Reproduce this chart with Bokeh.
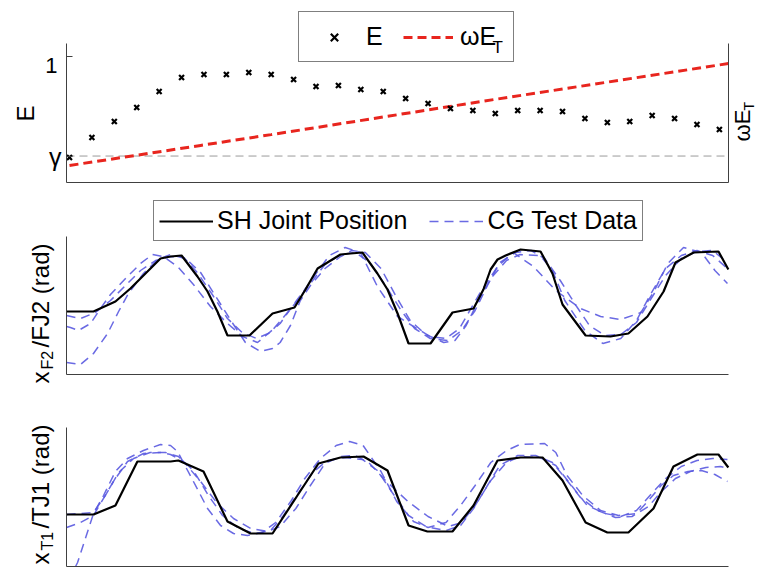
import math
from bokeh.plotting import figure
from bokeh.models import Range1d, LinearAxis, FixedTicker, Legend, LegendItem, Label
from bokeh.layouts import column
from bokeh.embed import file_html
from bokeh.resources import INLINE

FONT = "Liberation Sans"
AX = "#404040"
RED = "#e8251e"
BLUE = "#5a5ae0"

# ---------------- data ----------------
sample = list(range(1, 31))
E = [0.198, 0.357, 0.484, 0.595, 0.722, 0.833, 0.857, 0.857, 0.873, 0.857,
     0.817, 0.762, 0.770, 0.738, 0.722, 0.667, 0.627, 0.587, 0.571, 0.548,
     0.571, 0.571, 0.563, 0.508, 0.476, 0.484, 0.532, 0.508, 0.460, 0.421]
gamma = 0.21
wET_x = [1, 6.85, 10, 20, 30.4]
wET = [0.135, 0.294, 0.38, 0.66, 0.944]

# panel 2: SH joint position (FJ2) and three CG test runs
sh2_x = [0.87, 2.07, 3.05, 3.72, 4.39, 5.06, 5.51, 6.00, 6.71, 7.16, 7.60, 8.05, 9.03, 10.06, 11.04,
         11.53, 12.07, 12.51, 13.09, 13.54, 14.07, 14.74, 15.19, 15.64, 16.13, 17.11, 18.09, 19.03,
         19.47, 19.79, 20.10, 20.46, 21.13, 22.02, 22.55, 23.00, 24.03, 25.14, 25.94, 26.79, 27.51,
         28.04, 28.85, 29.96, 30.40]
sh2_y = [0.00, 0.00, 0.10, 0.23, 0.38, 0.53, 0.55, 0.56, 0.35, 0.20, 0.00, -0.24, -0.24, -0.02, 0.04,
         0.22, 0.43, 0.49, 0.57, 0.58, 0.59, 0.38, 0.22, -0.02, -0.32, -0.32, -0.01, 0.03,
         0.22, 0.42, 0.52, 0.56, 0.62, 0.60, 0.38, 0.07, -0.24, -0.25, -0.22, -0.05, 0.20,
         0.49, 0.59, 0.60, 0.42]
cg2a_x = [0.87, 1.49, 2.07, 2.70, 3.19, 3.63, 4.30, 4.93, 5.5, 6.18, 6.85, 7.5, 8.2, 8.85, 9.52,
          10.06, 10.4, 10.86, 11.3, 11.75, 12.4, 13.1, 13.6, 14.2, 14.9, 15.55, 16.2, 16.9, 17.7, 18.2,
          18.7, 19.25, 19.8, 20.5, 21.1, 22.0, 22.55, 23.1, 24.0, 24.8, 25.6, 26.3, 26.9, 27.6, 28.3,
          29.0, 29.7, 30.36]
cg2a_y = [-0.51, -0.53, -0.42, -0.22, 0.00, 0.18, 0.38, 0.52, 0.57, 0.53, 0.39, 0.16, -0.09, -0.31, -0.40,
          -0.37, -0.31, -0.14, 0.11, 0.26, 0.43, 0.55, 0.61, 0.59, 0.43, 0.16, -0.09, -0.23, -0.31, -0.29,
          -0.14, 0.11, 0.33, 0.51, 0.57, 0.56, 0.41, 0.11, -0.19, -0.32, -0.27, -0.09, 0.16, 0.43, 0.56,
          0.61, 0.56, 0.43]
cg2b_x = [0.87, 1.04, 1.40, 1.94, 2.38, 2.83, 3.50, 4.17, 4.70, 5.19, 5.82, 6.53, 7.29, 8.05, 8.72, 9.39,
          10.4, 11.1, 11.5, 12.1, 12.6, 13.3, 13.98, 14.74, 15.64, 16.35, 17.1, 17.8, 18.4, 19.3, 20.1,
          20.8, 21.7, 22.7, 23.8, 24.7, 25.6, 26.5, 27.1, 27.7, 28.4, 29.2, 29.8, 30.36]
cg2b_y = [-0.15, -0.16, -0.19, -0.12, 0.03, 0.17, 0.33, 0.48, 0.57, 0.55, 0.45, 0.27, 0.05, -0.12, -0.25, -0.31,
          -0.12, 0.10, 0.22, 0.41, 0.56, 0.64, 0.59, 0.25, -0.05, -0.15, -0.25, -0.27, -0.17, 0.18, 0.45,
          0.59, 0.45, 0.21, 0.03, -0.05, -0.08, -0.01, 0.21, 0.48, 0.64, 0.59, 0.41, 0.28]
cg2c_x = [0.87, 1.49, 2.16, 2.83, 3.5, 4.17, 4.84, 5.5, 6.1, 6.7, 7.4, 8.05, 8.7, 9.35, 9.97,
          10.5, 11.1, 11.75, 12.4, 13.1, 13.75, 14.4, 15.1, 15.8, 16.4, 17.1, 17.9, 18.5, 19.1, 19.65,
          20.2, 20.9, 21.6, 22.2, 22.9, 23.6, 24.2, 24.9, 25.6, 26.3, 26.9, 27.6, 28.3, 29.0, 29.7, 30.36]
cg2c_y = [-0.04, -0.07, -0.01, 0.11, 0.26, 0.41, 0.51, 0.55, 0.54, 0.39, 0.16, -0.07, -0.21, -0.27, -0.21,
          -0.07, 0.09, 0.28, 0.47, 0.57, 0.59, 0.49, 0.26, 0.01, -0.17, -0.27, -0.29, -0.19, 0.01, 0.26,
          0.49, 0.59, 0.61, 0.53, 0.31, 0.06, -0.14, -0.24, -0.23, -0.11, 0.11, 0.36, 0.53, 0.60, 0.61, 0.49]

# panel 3: SH joint position (TJ1) and three CG test runs
sh3_x = [0.87, 2.07, 3.05, 4.03, 5.51, 5.86, 6.98, 8.05, 9.08, 10.06, 11.17, 12.11, 13.09, 14.12, 15.19,
         16.13, 16.97, 18.09, 19.03, 20.10, 21.13, 22.11, 23.00, 24.03, 25.00, 25.94, 27.06, 27.95,
         29.02, 29.96, 30.40]
sh3_y = [0.00, 0.00, 0.09, 0.53, 0.53, 0.54, 0.43, -0.07, -0.19, -0.19, 0.19, 0.51, 0.57, 0.58, 0.44,
         -0.11, -0.17, -0.17, 0.09, 0.54, 0.57, 0.57, 0.34, -0.08, -0.18, -0.18, 0.06, 0.48,
         0.60, 0.60, 0.47]
cg3a_x = [1.27, 1.36, 2.07, 2.52, 3.05, 3.59, 4.30, 5.06, 5.51, 5.82, 6.53, 7.16, 7.74, 8.32, 8.94, 9.6,
          10.2, 10.9, 11.5, 12.2, 12.9, 13.5, 14.1, 14.9, 15.6, 16.35, 17.0, 17.8, 18.45, 19.1, 19.8,
          20.5, 21.1, 22.2, 22.7, 23.2, 23.9, 24.7, 25.5, 26.3, 26.8, 27.4, 27.95, 28.6, 29.2, 29.8, 30.36]
cg3a_y = [-0.52, -0.48, 0.01, 0.19, 0.43, 0.56, 0.64, 0.70, 0.69, 0.63, 0.33, 0.06, -0.11, -0.19, -0.21, -0.18,
          -0.08, 0.14, 0.36, 0.56, 0.69, 0.73, 0.69, 0.43, 0.13, -0.07, -0.13, -0.08, 0.09, 0.29, 0.52,
          0.64, 0.70, 0.71, 0.62, 0.39, 0.19, 0.04, -0.01, 0.01, 0.13, 0.29, 0.39, 0.43, 0.44, 0.40, 0.33]
cg3b_x = [0.87, 1.49, 2.07, 2.96, 3.59, 4.3, 5.06, 5.51, 6.09, 6.85, 7.6, 8.32, 9.08, 9.84, 10.4,
          11.1, 11.75, 12.4, 13.1, 13.75, 14.35, 15.1, 16.1, 17.0, 17.9, 18.5, 19.1, 19.8, 20.5, 21.1,
          22.0, 22.7, 23.4, 24.1, 24.9, 25.6, 26.3, 26.9, 27.6, 28.3, 29.0, 29.7, 30.36]
cg3b_y = [-0.13, -0.08, -0.01, 0.33, 0.53, 0.61, 0.62, 0.60, 0.53, 0.33, 0.11, -0.04, -0.14, -0.17, -0.12,
          0.06, 0.29, 0.51, 0.58, 0.59, 0.52, 0.34, 0.13, -0.02, -0.12, -0.08, 0.09, 0.34, 0.52, 0.58,
          0.57, 0.49, 0.29, 0.09, 0.01, -0.02, 0.04, 0.19, 0.36, 0.48, 0.54, 0.56, 0.55]
cg3c_x = [0.87, 1.49, 2.07, 2.6, 3.19, 3.86, 4.6, 5.28, 5.86, 6.53, 7.2, 7.83, 8.54, 9.3, 9.97,
          10.55, 11.17, 11.85, 12.5, 13.3, 14.07, 14.74, 15.4, 16.13, 16.9, 17.8, 18.45, 19.03, 19.65, 20.2,
          21.0, 21.8, 22.55, 23.13, 23.8, 24.56, 25.36, 26.1, 26.84, 27.37, 28.04, 28.7, 29.4, 30.05, 30.36]
cg3c_y = [0.0, 0.01, 0.02, 0.19, 0.42, 0.56, 0.62, 0.62, 0.58, 0.44, 0.19, -0.01, -0.14, -0.19, -0.16,
          -0.01, 0.20, 0.42, 0.54, 0.57, 0.55, 0.44, 0.22, -0.01, -0.12, -0.16, -0.11, 0.06, 0.29, 0.49,
          0.59, 0.59, 0.52, 0.36, 0.17, 0.04, -0.03, -0.02, 0.08, 0.22, 0.36, 0.43, 0.47, 0.48, 0.46]

# ---------------- layout constants (page pixels) ----------------
W = 756
X0, X1 = 0.866, 30.41          # data extent of the sample axis
PXU = 22.41                    # px per sample
AXL = 66                       # page x of the left axis
XR = (X0 - AXL / PXU, X0 + (W - AXL) / PXU)   # frame spans the whole canvas width
B1, B2, B3 = 190, 390, 567     # page y where each figure ends


def make_fig(height, yr):
    p = figure(width=W, height=height, x_range=Range1d(*XR), y_range=Range1d(*yr),
               output_backend="svg", toolbar_location=None,
               x_axis_location=None, y_axis_location=None,
               min_border_left=0, min_border_right=0,
               min_border_top=0, min_border_bottom=0)
    p.frame_align = False
    p.outline_line_color = None
    p.background_fill_color = "white"
    p.border_fill_color = "white"
    for g in p.grid:
        g.visible = False
    return p


def plain_axis(ticks=(), **kw):
    return LinearAxis(ticker=FixedTicker(ticks=list(ticks)),
                      major_label_overrides={t: "" for t in ticks},
                      axis_line_color=AX, axis_line_width=1,
                      major_tick_line_color=AX if ticks else None, minor_tick_line_color=None,
                      major_tick_out=0, major_tick_in=6 if ticks else 0,
                      minor_tick_out=0, minor_tick_in=0,
                      major_label_standoff=0, axis_label_standoff=0, **kw)


class Geo:
    def __init__(self, fy0, fy1, yr):
        self.fy0, self.fy1, self.yr = fy0, fy1, yr

    def data(self, px, py):
        x = XR[0] + px / PXU
        y = self.yr[0] + (self.fy1 - py) / (self.fy1 - self.fy0) * (self.yr[1] - self.yr[0])
        return x, y


def label(p, geo, px, py, text, size, angle=0.0, align="left"):
    x, y = geo.data(px, py)
    p.add_layout(Label(x=x, y=y, text=text, angle=angle, text_align=align,
                       text_baseline="alphabetic", text_font=FONT, text_font_size=size,
                       text_color="black", level="overlay"))


UP = math.pi / 2   # text reading bottom-to-top

# ---------------- panel 1 (page y 0..B1; E = (182 - py)/126) ----------------
YR1 = ((182 - B1) / 126, 182 / 126)
E_TOP = 1.103
geo1 = Geo(0, B1, YR1)
p1 = make_fig(B1, YR1)
p1.extra_y_ranges = {"wet": Range1d(*YR1)}
p1.add_layout(plain_axis(fixed_location=0, bounds=(X0, X1)), "below")
p1.add_layout(plain_axis(ticks=(gamma, 1), fixed_location=X0, bounds=(0, E_TOP)), "left")
p1.add_layout(plain_axis(y_range_name="wet", fixed_location=X1, bounds=(0, E_TOP)), "right")
p1.line([X0, X1], [gamma, gamma], line_color="#9a9a9a", line_dash="8 5", line_width=1)
r_w = p1.line(wET_x, wET, y_range_name="wet", line_color=RED, line_width=3, line_dash="9 5")
r_e = p1.scatter(sample, E, marker="x", size=7, line_color="black", line_width=2.2)
leg1 = Legend(items=[LegendItem(label="E", renderers=[r_e]),
                     LegendItem(label="ωE ", renderers=[r_w])],
              location=(298, B1 - 62), orientation="horizontal", padding=10, spacing=17,
              glyph_width=50, glyph_height=26, label_standoff=7, margin=0,
              border_line_color="black", border_line_width=1, background_fill_alpha=0,
              label_text_font=FONT, label_text_font_size="25px", label_text_color="black")
p1.add_layout(leg1, "center")
label(p1, geo1, 492, 47, "T", "17px")
label(p1, geo1, 57, 65, "1", "22px", align="right")
label(p1, geo1, 61, 156, "γ", "25px", align="right")
label(p1, geo1, 25, 113, "E", "24px", angle=UP, align="center")
label(p1, geo1, 742, 141, "ωE", "22px", angle=UP)
label(p1, geo1, 748, 110, "T", "14px", angle=UP)

# ---------------- panel 2 (page y B1..B2; v = (311 - py)/100) ----------------
YR2 = ((311 - B2) / 100, (311 - B1) / 100)
geo2 = Geo(B1, B2, YR2)
p2 = make_fig(B2 - B1, YR2)
p2.add_layout(plain_axis(fixed_location=-0.63, bounds=(X0, X1)), "below")
p2.add_layout(plain_axis(fixed_location=X0, bounds=(-0.63, 0.75)), "left")
rb = None
for xs, ys in ((cg2a_x, cg2a_y), (cg2b_x, cg2b_y), (cg2c_x, cg2c_y)):
    r = p2.line(xs, ys, line_color=BLUE, line_width=1.5, line_dash="9 6", line_alpha=0.9)
    rb = rb or r
rk = p2.line(sh2_x, sh2_y, line_color="black", line_width=2.2)
leg2 = Legend(items=[LegendItem(label="SH Joint Position", renderers=[rk]),
                     LegendItem(label="CG Test Data", renderers=[rb])],
              location=(153, B2 - 241), orientation="horizontal", padding=5, spacing=22,
              glyph_width=54, glyph_height=26, label_standoff=4, margin=0,
              border_line_color="black", border_line_width=1,
              label_text_font=FONT, label_text_font_size="25px", label_text_color="black")
p2.add_layout(leg2, "center")
label(p2, geo2, 40, 383, "x", "24px", angle=UP)
label(p2, geo2, 47, 369, "F2", "16px", angle=UP)
label(p2, geo2, 40, 347, "/FJ2 (rad)", "24px", angle=UP)

# ---------------- panel 3 (page y B2..B3; v = (514 - py)/100) ----------------
YR3 = ((514 - B3) / 100, (514 - B2) / 100)
geo3 = Geo(B2, B3, YR3)
p3 = make_fig(B3 - B2, YR3)
p3.add_layout(plain_axis(fixed_location=-0.52, bounds=(X0, X1)), "below")
p3.add_layout(plain_axis(fixed_location=X0, bounds=(-0.52, 0.87)), "left")
for xs, ys in ((cg3a_x, cg3a_y), (cg3b_x, cg3b_y), (cg3c_x, cg3c_y)):
    p3.line(xs, ys, line_color=BLUE, line_width=1.5, line_dash="9 6", line_alpha=0.9)
p3.line(sh3_x, sh3_y, line_color="black", line_width=2.2)
label(p3, geo3, 40, 564, "x", "24px", angle=UP)
label(p3, geo3, 47, 550, "T1", "16px", angle=UP)
label(p3, geo3, 40, 528, "/TJ1 (rad)", "24px", angle=UP)

layout = column(p1, p2, p3, spacing=0)
open("out.html", "w").write(file_html(layout, INLINE))
